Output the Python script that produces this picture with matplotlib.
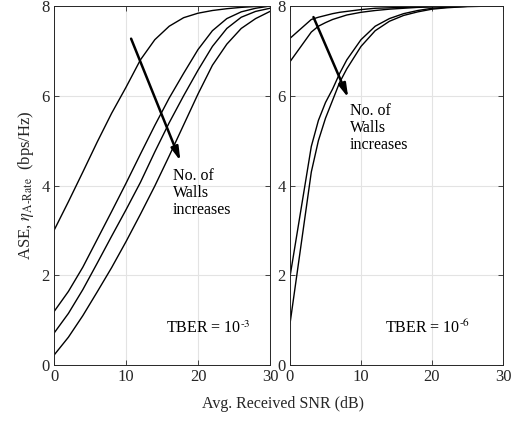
import matplotlib
matplotlib.use("Agg")
import matplotlib.pyplot as plt

plt.rcParams['font.family'] = ['Liberation Serif', 'DejaVu Serif']
plt.rcParams['mathtext.fontset'] = 'stix'

# Left panel: TBER = 1e-3
snr_left = [0, 2, 4, 6, 8, 10, 12, 14, 16, 18, 20, 22, 24, 26, 28, 30]
left_w1 = [3.00, 3.64, 4.30, 4.97, 5.61, 6.19, 6.80, 7.25, 7.55, 7.74, 7.84, 7.90, 7.94, 7.97, 7.99, 8.00]
left_w2 = [1.19, 1.64, 2.18, 2.80, 3.42, 4.05, 4.70, 5.34, 5.95, 6.50, 7.03, 7.45, 7.72, 7.87, 7.95, 8.00]
left_w3 = [0.71, 1.15, 1.68, 2.27, 2.87, 3.46, 4.07, 4.75, 5.40, 6.00, 6.57, 7.10, 7.50, 7.75, 7.88, 7.95]
left_w4 = [0.22, 0.62, 1.10, 1.63, 2.17, 2.75, 3.36, 3.99, 4.66, 5.35, 6.04, 6.68, 7.15, 7.50, 7.72, 7.88]

# Right panel: TBER = 1e-6
snr_right = [0, 3, 4, 5, 6, 7, 8, 10, 12, 14, 16, 18, 20, 22, 25, 30]
right_w1 = [7.28, 7.70, 7.75, 7.79, 7.83, 7.86, 7.88, 7.92, 7.95, 7.96, 7.97, 7.98, 7.99, 8.00, 8.00, 8.00]
right_w2 = [6.76, 7.42, 7.55, 7.63, 7.70, 7.75, 7.80, 7.86, 7.90, 7.93, 7.95, 7.97, 7.98, 7.99, 8.00, 8.00]
right_w3 = [1.97, 4.87, 5.45, 5.85, 6.15, 6.50, 6.80, 7.25, 7.55, 7.72, 7.83, 7.90, 7.95, 7.97, 7.99, 8.00]
right_w4 = [0.92, 4.30, 5.00, 5.50, 5.90, 6.30, 6.60, 7.10, 7.45, 7.66, 7.79, 7.87, 7.93, 7.96, 7.99, 8.00]

x_ticks = [0, 10, 20, 30]
y_ticks = [0, 2, 4, 6, 8]

fig = plt.figure(figsize=(5.15, 4.21), dpi=100)
axL = fig.add_axes([0.1049, 0.133, 0.4194, 0.8527])
axR = fig.add_axes([0.5631, 0.133, 0.4136, 0.8527])

def style(ax):
    ax.set_xlim(0, 30)
    ax.set_ylim(0, 8)
    ax.set_xticks(x_ticks)
    ax.set_yticks(y_ticks)
    ax.grid(True, color='#e3e3e3', linewidth=0.8)
    ax.set_axisbelow(True)
    ax.tick_params(direction='in', top=True, right=True, length=3.5,
                   width=0.6, colors='#262626', labelsize=12, pad=3)
    for s in ax.spines.values():
        s.set_color('#262626')
        s.set_linewidth(0.7)

for y in (left_w1, left_w2, left_w3, left_w4):
    axL.plot(snr_left, y, color='black', lw=1.0)
for y in (right_w1, right_w2, right_w3, right_w4):
    axR.plot(snr_right, y, color='black', lw=1.0)

style(axL)
style(axR)

arrow_kw = dict(arrowstyle='-|>,head_length=0.8,head_width=0.22', color='black', lw=1.8)
axL.annotate('', xy=(17.7, 4.49), xytext=(10.56, 7.33), arrowprops=arrow_kw)
axR.annotate('', xy=(8.36, 5.90), xytext=(3.15, 7.81), arrowprops=arrow_kw)

axL.text(16.5, 4.40, 'No. of\nWalls\nincreases', fontsize=11.5, va='top', ha='left', linespacing=1.1)
axR.text(8.45, 5.84, 'No. of\nWalls\nincreases', fontsize=11.5, va='top', ha='left', linespacing=1.1)

axL.text(15.5, 0.82, r'TBER = 10$^{\text{-3}}$', fontsize=11.5, va='center', ha='left')
axR.text(13.4, 0.82, r'TBER = 10$^{\text{-6}}$', fontsize=11.5, va='center', ha='left')

axL.set_ylabel(r'ASE, $\eta_{\text{A-Rate}}$  (bps/Hz)', fontsize=12, color='#262626', labelpad=4)
fig.text(0.549, 0.04, 'Avg. Received SNR (dB)', fontsize=11.5, ha='center', va='center', color='#262626')

fig.savefig('out.png', dpi=100)
